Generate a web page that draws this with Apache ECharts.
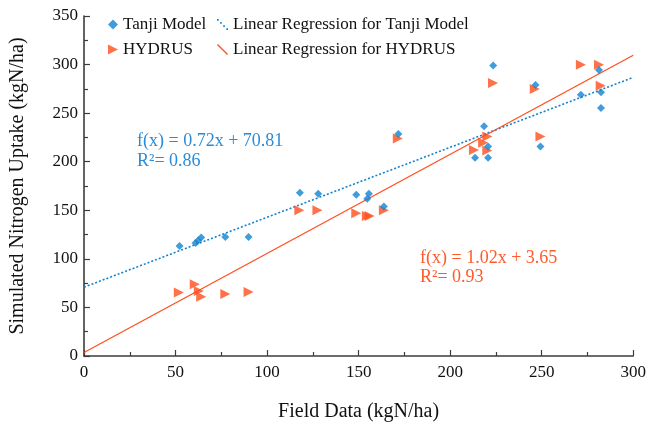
<!DOCTYPE html>
<html>
<head>
<meta charset="utf-8">
<script src="https://cdn.jsdelivr.net/npm/echarts@6/dist/echarts.min.js"></script>
<style>
  html, body { margin: 0; padding: 0; background: #fff; }
  #chart { width: 649px; height: 429px; }
</style>
</head>
<body>
<div id="chart"></div>
<script>
// Field-measured vs simulated nitrogen uptake (kgN/ha)
const tanjiField = [52.2, 60.9, 62.3, 64.0, 77.2, 89.9, 117.9, 127.9, 148.7, 155.6, 154.7, 163.8,
  171.7, 218.5, 213.6, 220.7, 220.7, 249.3, 223.5, 246.6, 281.3, 282.4, 271.4, 282.4];
const tanjiSim = [113.2, 116.3, 119.0, 121.9, 122.5, 122.5, 168.0, 167.0, 166.0, 167.0, 162.0, 154.0,
  228.6, 236.5, 204.0, 204.0, 215.6, 215.6, 299.0, 279.0, 294.3, 271.4, 269.0, 255.3];

const hydrusField = [51.8, 60.5, 62.7, 64.0, 77.2, 89.9, 117.6, 127.5, 148.7, 154.5, 156.0, 163.8,
  171.4, 213.0, 218.0, 220.3, 220.3, 249.3, 223.4, 246.2, 271.4, 281.3, 282.2];
const hydrusSim = [65.4, 73.9, 67.0, 60.9, 63.7, 66.0, 150.0, 150.0, 147.0, 144.0, 144.0, 150.0,
  224.0, 212.0, 219.4, 225.9, 211.5, 226.0, 281.0, 274.8, 299.8, 299.8, 278.2];

// Fitted regressions: [slope, intercept, R²]
const tanjiFit = [0.72, 70.81, 0.86];
const hydrusFit = [1.02, 3.65, 0.93];
const fitRange = [0, 300];

const xTicks = { min: 0, max: 300, interval: 50 };
const yTicks = { min: 0, max: 350, interval: 50 };

const BLUE = '#1283d2';
const RED = '#ff4d1c';
const FONT = '"Liberation Serif", "DejaVu Serif", serif';

const pairs = (xs, ys) => xs.map((x, i) => [x, ys[i]]);
const fitLine = (fit) => fitRange.map(x => [x, fit[0] * x + fit[1]]);

const triPath = 'path://M0,0 L10,5 L0,10 Z';
const diamond = 'diamond';
const solidIcon = 'path://M0,1 L1,0 L12,11 L11,12 Z';
const dotIcon = 'path://M0,0h1.6v1.6h-1.6Z M3,3h1.6v1.6h-1.6Z M6,6h1.6v1.6h-1.6Z M9,9h1.6v1.6h-1.6Z';

const chart = echarts.init(document.getElementById('chart'), null, { renderer: 'canvas' });

const axisCommon = {
  axisLine: { show: true, lineStyle: { color: '#3c3c3c', width: 1.6 } },
  axisTick: { show: true, inside: true, length: 6, lineStyle: { color: '#3c3c3c', width: 1.2 } },
  minorTick: { show: true, splitNumber: 2, length: 4, lineStyle: { color: '#3c3c3c', width: 1.2 } },
  splitLine: { show: false },
  axisLabel: { color: '#111', fontFamily: FONT, fontSize: 17 },
  nameTextStyle: { color: '#111', fontFamily: FONT, fontSize: 20 }
};

const legendText = { color: '#111', fontFamily: FONT, fontSize: 17 };

chart.setOption({
  animation: false,
  backgroundColor: '#fff',
  textStyle: { fontFamily: FONT },
  grid: { left: 83, right: 14, top: 16, bottom: 73 },
  xAxis: Object.assign({}, axisCommon, {
    type: 'value', min: xTicks.min, max: xTicks.max, interval: xTicks.interval,
    name: 'Field Data (kgN/ha)', nameLocation: 'middle', nameGap: 46,
    axisLabel: Object.assign({}, axisCommon.axisLabel, { margin: 8 })
  }),
  yAxis: Object.assign({}, axisCommon, {
    type: 'value', min: yTicks.min, max: yTicks.max, interval: yTicks.interval,
    name: 'Simulated Nitrogen Uptake (kgN/ha)', nameLocation: 'middle', nameGap: 56,
    axisLabel: Object.assign({}, axisCommon.axisLabel, { margin: 6 })
  }),
  legend: [
    {
      orient: 'vertical', left: 103, top: 11, itemGap: 8, itemWidth: 10, itemHeight: 10,
      textStyle: legendText,
      data: [
        { name: 'Tanji Model', icon: diamond },
        { name: 'HYDRUS', icon: triPath }
      ]
    },
    {
      orient: 'vertical', left: 212, top: 11, itemGap: 8, itemWidth: 11, itemHeight: 11,
      textStyle: legendText,
      data: [
        { name: 'Linear Regression for Tanji Model', icon: dotIcon },
        { name: 'Linear Regression for HYDRUS', icon: solidIcon }
      ]
    }
  ],
  series: [
    {
      name: 'Linear Regression for Tanji Model', type: 'line', data: fitLine(tanjiFit),
      showSymbol: false, symbol: 'none', color: BLUE, z: 1,
      lineStyle: { color: BLUE, width: 1.6, type: [2, 2] }
    },
    {
      name: 'Linear Regression for HYDRUS', type: 'line', data: fitLine(hydrusFit),
      showSymbol: false, symbol: 'none', color: RED, z: 1,
      lineStyle: { color: RED, width: 1.2 }
    },
    {
      name: 'HYDRUS', type: 'scatter', data: pairs(hydrusField, hydrusSim),
      symbol: triPath, symbolSize: [10, 10], color: RED, z: 2,
      itemStyle: { color: RED }
    },
    {
      name: 'Tanji Model', type: 'scatter', data: pairs(tanjiField, tanjiSim),
      symbol: diamond, symbolSize: 8, color: BLUE, z: 3,
      itemStyle: { color: BLUE }
    }
  ],
  graphic: [
    {
      type: 'text', left: 137, top: 131,
      style: {
        text: 'f(x) = ' + tanjiFit[0].toFixed(2) + 'x + ' + tanjiFit[1].toFixed(2) +
          '\nR²= ' + tanjiFit[2].toFixed(2),
        fill: '#2a8cd8', font: '18px ' + FONT, lineHeight: 20
      }
    },
    {
      type: 'text', left: 420, top: 249,
      style: {
        text: 'f(x) = ' + hydrusFit[0].toFixed(2) + 'x + ' + hydrusFit[1].toFixed(2) +
          '\nR²= ' + hydrusFit[2].toFixed(2),
        fill: '#ff5a2a', font: '18px ' + FONT, lineHeight: 19
      }
    }
  ]
});
</script>
</body>
</html>
